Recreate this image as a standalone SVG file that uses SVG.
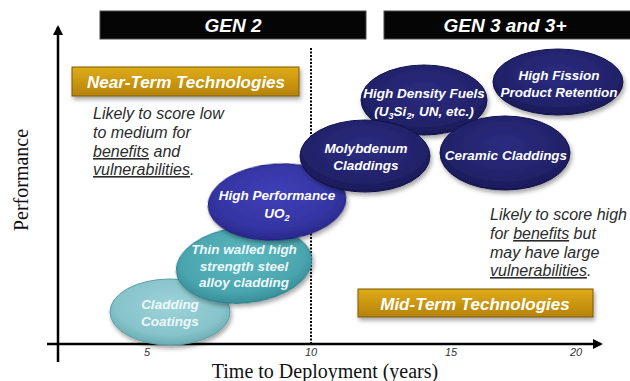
<svg xmlns="http://www.w3.org/2000/svg" width="630" height="381" viewBox="0 0 630 381">
  <defs>
    <style>
      .bar { fill: #050505; stroke: #4a4a4a; stroke-width: 1; }
      .bar-label { font-family: "Liberation Sans", Arial, sans-serif; font-weight: bold; font-style: italic; font-size: 19px; fill: #ffffff; text-anchor: middle; }
      .gold { fill: url(#goldFill); stroke: #7a5a08; stroke-width: 1; filter: url(#shadow); }
      .gold-label { font-family: "Liberation Sans", Arial, sans-serif; font-weight: bold; font-style: italic; font-size: 17px; fill: #ffffff; text-anchor: middle; }
      .note { font-family: "Liberation Sans", Arial, sans-serif; font-style: italic; font-size: 16px; fill: #2b2b2b; }
      .node-label { font-family: "Liberation Sans", Arial, sans-serif; font-weight: bold; font-style: italic; font-size: 13.5px; fill: #ffffff; text-anchor: middle; }
      .teal-label { fill: #eef8f9; }
      .tick { font-family: "Liberation Sans", Arial, sans-serif; font-style: italic; font-size: 11px; fill: #333333; text-anchor: middle; }
      .axis-title { font-family: "Liberation Serif", "Times New Roman", serif; font-size: 20px; fill: #111111; text-anchor: middle; }
      .axis { stroke: #000000; stroke-width: 2.5; fill: none; }
      .navy { fill: url(#navyFill); stroke: #12124a; stroke-width: 1; filter: url(#shadow); }
      .blue { fill: url(#blueFill); stroke: #1e1e78; stroke-width: 1; filter: url(#shadow); }
      .teal { fill: url(#tealFill); stroke: #2d7f88; stroke-width: 1; filter: url(#shadow); }
      .lteal { fill: url(#lightTealFill); stroke: #5d9ea6; stroke-width: 1; filter: url(#shadow); }
    </style>
    <filter id="shadow" x="-20%" y="-20%" width="140%" height="150%">
      <feDropShadow dx="1.5" dy="3" stdDeviation="2" flood-color="#000000" flood-opacity="0.35"/>
    </filter>
    <linearGradient id="goldFill" x1="0" y1="0" x2="0" y2="1">
      <stop offset="0" stop-color="#e0ac18"/>
      <stop offset="1" stop-color="#b58208"/>
    </linearGradient>
    <radialGradient id="navyFill" cx="0.5" cy="0.4" r="0.6">
      <stop offset="0" stop-color="#2c2c80"/>
      <stop offset="0.75" stop-color="#22226a"/>
      <stop offset="1" stop-color="#181856"/>
    </radialGradient>
    <radialGradient id="blueFill" cx="0.5" cy="0.4" r="0.6">
      <stop offset="0" stop-color="#4040b8"/>
      <stop offset="0.75" stop-color="#3434a2"/>
      <stop offset="1" stop-color="#28288a"/>
    </radialGradient>
    <radialGradient id="tealFill" cx="0.5" cy="0.4" r="0.6">
      <stop offset="0" stop-color="#5cb8c0"/>
      <stop offset="0.75" stop-color="#4aa5ae"/>
      <stop offset="1" stop-color="#378d97"/>
    </radialGradient>
    <radialGradient id="lightTealFill" cx="0.5" cy="0.4" r="0.6">
      <stop offset="0" stop-color="#9ed3d9"/>
      <stop offset="0.75" stop-color="#86c3ca"/>
      <stop offset="1" stop-color="#6aacb4"/>
    </radialGradient>
    <marker id="arrow" viewBox="0 0 10 10" refX="8" refY="5" markerWidth="4" markerHeight="4" orient="auto-start-reverse" markerUnits="strokeWidth">
      <path d="M0,0 L10,5 L0,10 z" fill="#000000"/>
    </marker>
  </defs>

  <rect width="630" height="381" fill="#ffffff"/>

  <!-- generation header bars -->
  <g id="gen2">
    <rect class="bar" x="100" y="11" width="266" height="28"/>
    <text class="bar-label" x="233" y="32">GEN 2</text>
  </g>
  <g id="gen3">
    <rect class="bar" x="384" y="11" width="250" height="28"/>
    <text class="bar-label" x="505" y="32">GEN 3 and 3+</text>
  </g>

  <!-- axes and the 10-year divider -->
  <g id="connectors">
    <line class="axis" x1="58" y1="362" x2="58" y2="27" marker-end="url(#arrow)"/>
    <line class="axis" x1="47" y1="344" x2="601" y2="344" marker-end="url(#arrow)"/>
    <line x1="311" y1="48" x2="311" y2="343" stroke="#000000" stroke-width="2" stroke-dasharray="2,1.5"/>
  </g>

  <g id="ticks">
    <text class="tick" x="147" y="356">5</text>
    <text class="tick" x="311" y="356">10</text>
    <text class="tick" x="451" y="356">15</text>
    <text class="tick" x="576" y="356">20</text>
  </g>

  <text class="axis-title" x="325" y="378">Time to Deployment (years)</text>
  <text class="axis-title" transform="translate(28,180) rotate(-90)">Performance</text>

  <!-- category labels -->
  <g id="near-term">
    <rect class="gold" x="72" y="67" width="227" height="29"/>
    <text class="gold-label" x="186" y="88">Near-Term Technologies</text>
  </g>
  <g id="mid-term">
    <rect class="gold" x="358" y="289" width="235" height="28"/>
    <text class="gold-label" x="475" y="310">Mid-Term Technologies</text>
  </g>

  <!-- notes -->
  <g id="near-note">
    <text class="note" x="93" y="119">Likely to score low</text>
    <text class="note" x="93" y="138">to medium for</text>
    <text class="note" x="93" y="157"><tspan text-decoration="underline">benefits</tspan> and</text>
    <text class="note" x="93" y="175"><tspan text-decoration="underline">vulnerabilities</tspan>.</text>
  </g>
  <g id="mid-note">
    <text class="note" x="490" y="220">Likely to score high</text>
    <text class="note" x="490" y="239">for <tspan text-decoration="underline">benefits</tspan> but</text>
    <text class="note" x="490" y="258">may have large</text>
    <text class="note" x="490" y="276"><tspan text-decoration="underline">vulnerabilities</tspan>.</text>
  </g>

  <!-- technology nodes -->
  <g id="cladding-coatings">
    <ellipse class="lteal" cx="170" cy="312" rx="60" ry="33"/>
    <text class="node-label teal-label" x="170" y="309">Cladding</text>
    <text class="node-label teal-label" x="170" y="326">Coatings</text>
  </g>
  <g id="thin-walled">
    <ellipse class="teal" cx="244" cy="265" rx="68" ry="38" transform="rotate(-6 244 265)"/>
    <text class="node-label teal-label" x="244" y="254">Thin walled high</text>
    <text class="node-label teal-label" x="244" y="271">strength steel</text>
    <text class="node-label teal-label" x="244" y="287">alloy cladding</text>
  </g>
  <g id="high-performance">
    <ellipse class="blue" cx="277" cy="202" rx="69" ry="38" transform="rotate(-4 277 202)"/>
    <text class="node-label" x="277" y="200">High Performance</text>
    <text class="node-label" x="277" y="218">UO<tspan font-size="9" dy="3">2</tspan></text>
  </g>
  <g id="high-density">
    <ellipse class="navy" cx="424" cy="100" rx="63" ry="35"/>
    <text class="node-label" x="424" y="98">High Density Fuels</text>
    <text class="node-label" x="424" y="116">(U<tspan font-size="9" dy="3">3</tspan><tspan dy="-3">Si</tspan><tspan font-size="9" dy="3">2</tspan><tspan dy="-3">, UN, etc.)</tspan></text>
  </g>
  <g id="fission-retention">
    <ellipse class="navy" cx="558" cy="82" rx="65" ry="33"/>
    <text class="node-label" x="559" y="80">High Fission</text>
    <text class="node-label" x="559" y="97">Product Retention</text>
  </g>
  <g id="molybdenum">
    <ellipse class="navy" cx="365" cy="156" rx="65" ry="36"/>
    <text class="node-label" x="366" y="153">Molybdenum</text>
    <text class="node-label" x="366" y="170">Claddings</text>
  </g>
  <g id="ceramic">
    <ellipse class="navy" cx="505" cy="153" rx="65" ry="37"/>
    <text class="node-label" x="506" y="160">Ceramic Claddings</text>
  </g>
</svg>
